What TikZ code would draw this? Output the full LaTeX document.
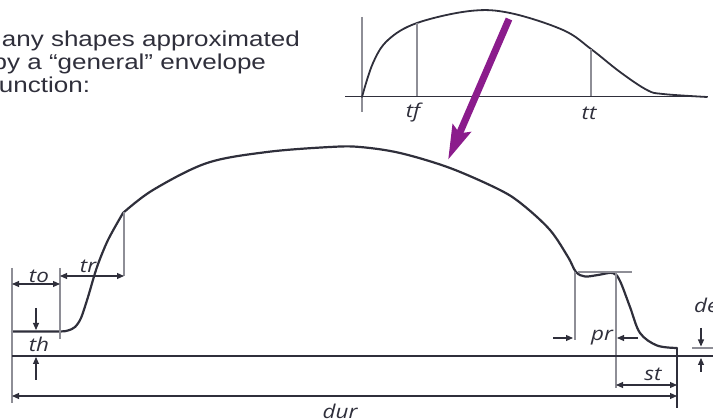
\documentclass[tikz,border=0pt]{standalone}
\usepackage{fontspec}
\setmainfont{Liberation Sans}
\newfontfamily\notefont[FakeStretch=1.21]{Liberation Sans}
\newfontfamily\lblfont[FakeStretch=1.18]{Open Sans}
\usetikzlibrary{arrows.meta}
\definecolor{ink}{HTML}{2F2F3B}
\definecolor{guide}{HTML}{8E8E96}
\definecolor{plum}{HTML}{8B1C8C}
\tikzset{
  env/.style={ink, line width=2.2pt, line join=round, line cap=round},
  guideline/.style={guide, line width=1.1pt},
  dim/.style={ink, line width=1.1pt, {Triangle[length=7pt,width=6pt]}-{Triangle[length=7pt,width=6pt]}},
  onedim/.style={ink, line width=1.1pt, -{Triangle[length=7pt,width=6pt]}},
  lbl/.style={font={\lblfont\itshape\fontsize{19pt}{19pt}\selectfont}, text=ink, inner sep=0pt},
  note/.style={font={\notefont\fontsize{21.5pt}{21.5pt}\selectfont}, text=ink, inner sep=0pt, anchor=base west},
}
\begin{document}
\begin{tikzpicture}[x=1pt,y=-1pt]
\useasboundingbox (0,0) rectangle (713,419);
\clip (0,0) rectangle (713,419);
% note text
\node[note] (note1) at (-20,46.5) {Many shapes approximated};
\node[note] (note2) at (-7.5,70) {by a “general” envelope};
\node[note] (note3) at (-8.5,93) {function:};
% small envelope
\coordinate (ax0) at (345,96.5);
\coordinate (ax1) at (708,96.5);
\draw[ink, line width=1.1pt] (ax0) -- (ax1);
\draw[guideline] (362,17) -- (362,112);
\draw[env, line width=1.8pt] plot[smooth, tension=0.6] coordinates {(362,97) (373,63) (388,40) (417,23) (470,11) (510,13) (563,30) (591,49) (620,72) (647,90) (663,94) (707,97)};
\foreach \x/\y in {417/23, 591/49}
{
	\draw[guideline] (\x,\y) -- (\x,96.5);
}
\node[lbl] (tf) at (413,113) {tf};
\node[lbl] (tt) at (589,113) {tt};
% arrow into the big one
\coordinate (from) at (509,19);
\coordinate (into) at (448,160);
\draw[plum, line width=7pt, -{Stealth[length=34pt,width=19pt,inset=5pt]}] (from) -- (into);
% big envelope
\draw[env] plot[smooth, tension=0.5] coordinates {(12,331.5) (58,331.5) (68,330.5) (75,327) (81,318) (88,297) (97,267) (108,240) (123,213)};
\draw[env] plot[smooth, tension=0.55] coordinates {(123,213) (153,190) (207,163) (267,152) (330,147) (360,147) (400,153) (450,168) (500,190) (523,205) (550,230) (568,257) (576,272) (585,276.5) (598,275) (613,273) (620,281) (630,307) (640,333) (657,345.5) (677,348)};
% guides
\foreach \x/\ya/\yb in {12/268/403, 60/268/339, 124/212/276, 575/272/340, 616/272/388}
{
	\draw[guideline] (\x,\ya) -- (\x,\yb);
}
\draw[guideline] (578,272) -- (632,272);
\draw[guideline] (692,348) -- (713,348);
\draw[ink, line width=1.1pt] (677,348) -- (677,408);
\draw[ink, line width=1.6pt] (12,356) -- (713,356);
% dimensions
\coordinate (toA) at (12,284);  \coordinate (toB) at (60,284);
\coordinate (trA) at (60,276);  \coordinate (trB) at (124,276);
\coordinate (stA) at (616,385); \coordinate (stB) at (677,385);
\coordinate (durA) at (12,396); \coordinate (durB) at (677,396);
\draw[dim] (toA) -- (toB);
\draw[dim] (trA) -- (trB);
\draw[dim] (stA) -- (stB);
\draw[dim] (durA) -- (durB);
\node[lbl] (to) at (39,276) {to};
\node[lbl] (tr) at (88,266) {tr};
\node[lbl] (st) at (653,374) {st};
\node[lbl] (dur) at (340,411) {dur};
% th, pr, de pointers
\coordinate (thA) at (36,308); \coordinate (thB) at (36,330);
\coordinate (thC) at (36,380); \coordinate (thD) at (36,357);
\draw[onedim] (thA) -- (thB);
\draw[onedim] (thC) -- (thD);
\node[lbl] (th) at (39,344) {th};
\coordinate (prA) at (553,338); \coordinate (prB) at (573,338);
\coordinate (prC) at (638,338); \coordinate (prD) at (617,338);
\draw[onedim] (prA) -- (prB);
\draw[onedim] (prC) -- (prD);
\node[lbl] (pr) at (602,338) {pr};
\coordinate (deA) at (701,328); \coordinate (deB) at (701,346.5);
\coordinate (deC) at (701,372); \coordinate (deD) at (701,358);
\draw[onedim] (deA) -- (deB);
\draw[onedim] (deC) -- (deD);
\node[lbl, anchor=west] (de) at (694,305) {de};
\end{tikzpicture}
\end{document}
